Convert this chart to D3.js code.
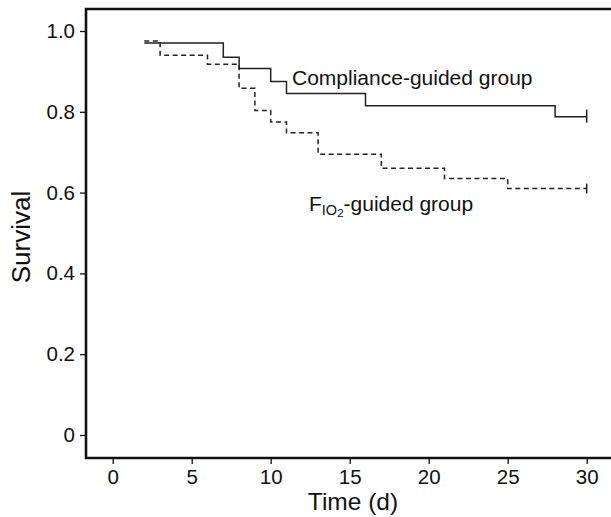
<!DOCTYPE html>
<html>
<head>
<meta charset="utf-8">
<script src="https://cdn.jsdelivr.net/npm/d3@7"></script>
<style>
  body { margin: 0; background: #fff; }
  svg text { font-family: "Liberation Sans", Arial, sans-serif; fill: #111; }
</style>
</head>
<body>
<div id="km"></div>
<script>
// Kaplan-Meier curves, values
var compDays = [2, 7, 8, 10, 11, 16, 28, 30];
var compSurv = [0.97, 0.935, 0.907, 0.875, 0.845, 0.815, 0.788, 0.788];

var fioDays = [2, 3, 6, 8, 9, 10, 11, 13, 17, 21, 25, 30];
var fioSurv = [0.975, 0.94, 0.918, 0.858, 0.803, 0.775, 0.748, 0.695, 0.66, 0.635, 0.61, 0.61];

var xTicks = [0, 5, 10, 15, 20, 25, 30];
var yTicks = [0, 0.2, 0.4, 0.6, 0.8, 1.0];
var yTickLabels = ["0", "0.2", "0.4", "0.6", "0.8", "1.0"];

var W = 611, H = 517;
var frame = {left: 86, top: 9, right: 611, bottom: 458};

var svg = d3.select("#km").append("svg").attr("width", W).attr("height", H);

var x = d3.scaleLinear().domain([0, 30]).range([112.7, 586.7]);
var y = d3.scaleLinear().domain([0, 1]).range([435, 31]);

// frame
svg.append("path")
  .attr("d", "M" + frame.right + "," + frame.top + "H" + frame.left + "V" + frame.bottom + "H" + frame.right)
  .attr("fill", "none").attr("stroke", "#111").attr("stroke-width", 2.6);

// y axis
var yAxis = svg.append("g").attr("transform", "translate(" + frame.left + ",0)")
  .call(d3.axisLeft(y).tickValues(yTicks).tickSize(6).tickPadding(5)
    .tickFormat(function(d, i) { return yTickLabels[i]; }));
yAxis.select(".domain").remove();
yAxis.selectAll("line").attr("stroke", "#111").attr("stroke-width", 1.3);
yAxis.selectAll("text").style("font-size", "20.5px").attr("fill", "#111");

// x axis
var xAxis = svg.append("g").attr("transform", "translate(0," + frame.bottom + ")")
  .call(d3.axisBottom(x).tickValues(xTicks).tickSize(6).tickPadding(5));
xAxis.select(".domain").remove();
xAxis.selectAll("line").attr("stroke", "#111").attr("stroke-width", 1.3);
xAxis.selectAll("text").style("font-size", "20.5px").attr("fill", "#111");

// axis titles
svg.append("text").attr("x", 353).attr("y", 510).attr("text-anchor", "middle")
  .style("font-size", "24.5px").text("Time (d)");
svg.append("text").attr("transform", "translate(30,237) rotate(-90)").attr("text-anchor", "middle")
  .style("font-size", "26px").text("Survival");

// curves
var step = d3.line().x(function(d) { return x(d[0]); }).y(function(d) { return y(d[1]); })
  .curve(d3.curveStepAfter);

var comp = d3.zip(compDays, compSurv);
var fio = d3.zip(fioDays, fioSurv);

svg.append("path").datum(comp).attr("d", step)
  .attr("fill", "none").attr("stroke", "#222").attr("stroke-width", 1.5);
svg.append("path").datum(fio).attr("d", step)
  .attr("fill", "none").attr("stroke", "#222").attr("stroke-width", 1.5)
  .attr("stroke-dasharray", "5,3.5");

// censor marks at the end
svg.append("line")
  .attr("x1", x(30)).attr("x2", x(30))
  .attr("y1", y(compSurv[compSurv.length - 1]) - 7).attr("y2", y(compSurv[compSurv.length - 1]) + 6)
  .attr("stroke", "#222").attr("stroke-width", 1.5);
svg.append("line")
  .attr("x1", x(30)).attr("x2", x(30))
  .attr("y1", y(fioSurv[fioSurv.length - 1]) - 5).attr("y2", y(fioSurv[fioSurv.length - 1]) + 5)
  .attr("stroke", "#222").attr("stroke-width", 1.5);

// labels
svg.append("text").attr("x", 292).attr("y", 85).style("font-size", "21px")
  .text("Compliance-guided group");

var fl = svg.append("text").attr("x", 309).attr("y", 211).style("font-size", "21px");
fl.append("tspan").text("F");
fl.append("tspan").attr("dy", 4).style("font-size", "14.5px").text("IO");
fl.append("tspan").attr("dy", 2).style("font-size", "11.5px").text("2");
fl.append("tspan").attr("dy", -6).text("-guided group");
</script>
</body>
</html>
